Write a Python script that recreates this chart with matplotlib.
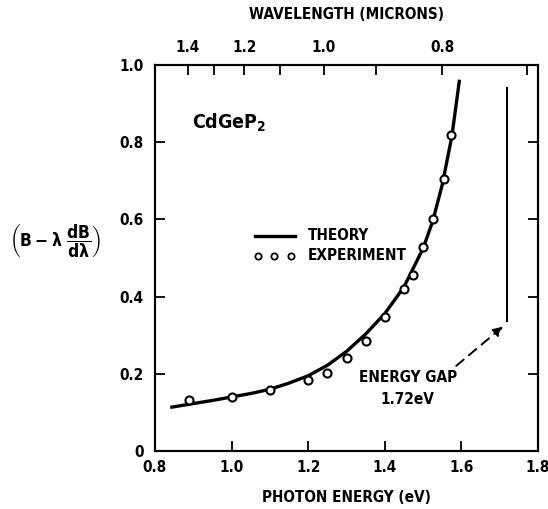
import matplotlib
matplotlib.use("Agg")
import matplotlib.pyplot as plt
from matplotlib import font_manager

# experiment points (photon energy eV, normalised value)
exp_energy = [0.89, 1.0, 1.1, 1.2, 1.25, 1.3, 1.35, 1.4, 1.45, 1.473, 1.5, 1.525, 1.555, 1.574]
exp_value = [0.131, 0.141, 0.158, 0.183, 0.203, 0.242, 0.284, 0.347, 0.420, 0.455, 0.528, 0.600, 0.704, 0.819]

# theory curve
theory_energy = [0.84, 0.90, 0.95, 1.00, 1.05, 1.10, 1.15, 1.20, 1.25, 1.30, 1.35, 1.40,
                 1.45, 1.50, 1.525, 1.55, 1.575, 1.595]
theory_value = [0.113, 0.123, 0.131, 0.140, 0.149, 0.160, 0.176, 0.195, 0.222, 0.258, 0.303, 0.356,
                0.425, 0.525, 0.595, 0.690, 0.815, 0.962]

energy_ticks = [0.8, 1.0, 1.2, 1.4, 1.6, 1.8]
value_ticks = [0, 0.2, 0.4, 0.6, 0.8, 1.0]
wavelength_ticks = [1.4, 1.3, 1.2, 1.1, 1.0, 0.9, 0.8, 0.7]
wavelength_labels = ["1.4", "", "1.2", "", "1.0", "", "0.8", ""]

gap_energy = 1.72

# look for a narrow bold face, fall back to whatever is there
fonts = font_manager.fontManager.ttflist
narrow = [f for f in fonts if f.name == "Liberation Sans Narrow" and f.weight in ("bold", 700)]
cond = [f for f in fonts if f.name == "DejaVu Sans" and f.stretch == "condensed"
        and f.weight in ("bold", 700)]
if narrow:
    fam, stretch = "Liberation Sans Narrow", "normal"
elif cond:
    fam, stretch = "DejaVu Sans", "condensed"
else:
    fam, stretch = "DejaVu Sans", "normal"

plt.rcParams["font.family"] = [fam, "DejaVu Sans"]
plt.rcParams["font.weight"] = "bold"
plt.rcParams["font.stretch"] = stretch
plt.rcParams["axes.labelweight"] = "bold"
plt.rcParams["mathtext.fontset"] = "custom"
plt.rcParams["mathtext.rm"] = f"{fam}:bold:stretch={stretch}"
plt.rcParams["mathtext.it"] = f"{fam}:bold:stretch={stretch}"
plt.rcParams["mathtext.bf"] = f"{fam}:bold:stretch={stretch}"

fig = plt.figure(figsize=(5.48, 5.09), dpi=100)
ax = fig.add_axes([0.2828, 0.1139, 0.6990, 0.7584])

ax.plot(theory_energy, theory_value, color="black", lw=2.4, solid_capstyle="butt")
ax.plot(exp_energy, exp_value, "o", ms=5.8, mfc="white", mec="black", mew=1.5)

# energy gap marker
ax.plot([gap_energy, gap_energy], [0.338, 0.94], color="black", lw=1.5)
ax.annotate("", xy=(1.714, 0.327), xytext=(1.581, 0.216),
            arrowprops=dict(arrowstyle="-|>", color="black", lw=1.4, ls=(0, (5, 3.5)),
                            mutation_scale=14))
ax.text(1.46, 0.19, "ENERGY GAP", ha="center", va="center", fontsize=11)
ax.text(1.46, 0.133, "1.72eV", ha="center", va="center", fontsize=11)

ax.text(0.897, 0.85, r"CdGeP$_2$", ha="left", va="center", fontsize=14)

# hand drawn legend
ax.plot([1.061, 1.165], [0.558, 0.558], color="black", lw=2.4)
ax.plot([1.068, 1.111, 1.155], [0.506, 0.506, 0.506], "o", ms=4.5, mfc="white", mec="black", mew=1.3)
ax.text(1.2, 0.558, "THEORY", ha="left", va="center", fontsize=11)
ax.text(1.2, 0.506, "EXPERIMENT", ha="left", va="center", fontsize=11)

ax.set_xlim(0.8, 1.8)
ax.set_ylim(0, 1.0)
ax.set_xticks(energy_ticks)
ax.set_xticklabels([f"{v:.1f}" for v in energy_ticks])
ax.set_yticks(value_ticks)
ax.set_yticklabels(["0"] + [f"{v:.1f}" for v in value_ticks[1:]])
ax.tick_params(direction="in", length=7, width=1.3, labelsize=11, right=True, pad=8)
ax.tick_params(axis="x", pad=6.5)
ax.set_xlabel("PHOTON ENERGY (eV)", fontsize=11, labelpad=11)
for s in ax.spines.values():
    s.set_linewidth(1.5)

fig.text(55 / 548, 1 - 241 / 509, r"$\left(B-\lambda\ \dfrac{dB}{d\lambda}\right)$",
         ha="center", va="center", fontsize=12.5)

top = ax.twiny()
top.set_xlim(ax.get_xlim())
top.set_xticks([1.24 / w for w in wavelength_ticks])
top.set_xticklabels(wavelength_labels)
top.tick_params(direction="in", length=7, width=1.3, labelsize=11, pad=7)
top.set_xlabel("WAVELENGTH (MICRONS)", fontsize=11, labelpad=15)
for s in top.spines.values():
    s.set_linewidth(1.5)

fig.savefig("out.png", dpi=100)
